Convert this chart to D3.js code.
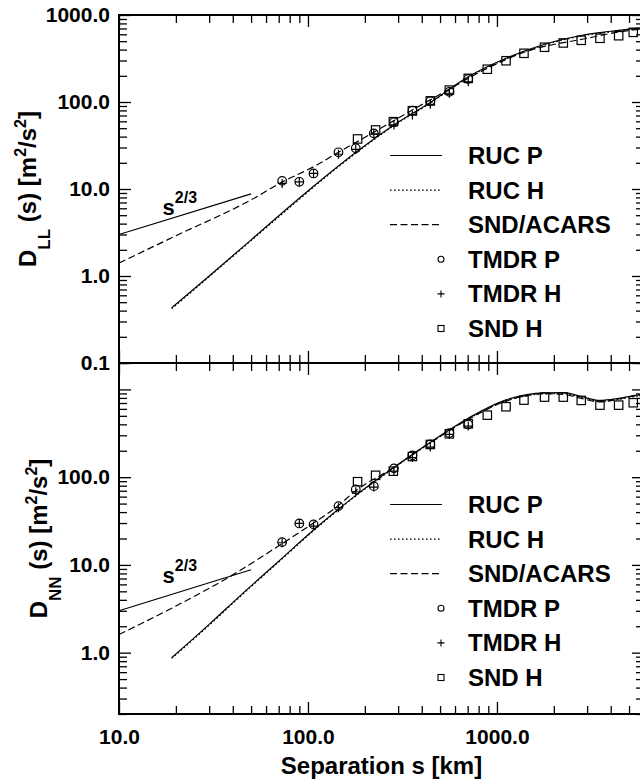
<!DOCTYPE html>
<html>
<head>
<meta charset="utf-8">
<script src="https://cdn.jsdelivr.net/npm/d3@7"></script>
<style>
  body { margin: 0; background: #fff; }
  text { font-family: "Liberation Sans", Arial, Helvetica, sans-serif; font-weight: bold; fill: #000; }
</style>
</head>
<body>
<svg id="chart" width="640" height="781"></svg>
<script>
// s^(2/3) reference segment (same in both panels)
const refS = [10, 50];
const refV = [3.0, 8.8];

// ---- D_LL panel ----
const llRucS = [19, 30, 50, 84, 120, 181, 285, 444, 705, 1117, 1786, 2866, 4000, 6000];
const llRucP = [0.43, 1.0, 2.6, 6.9, 13.2, 26.8, 54.5, 99, 195, 318, 461, 589, 650, 720];
const llRucH = [0.42, 0.98, 2.55, 6.7, 12.9, 26.2, 53.5, 97, 191, 312, 452, 578, 640, 708];
const llSndS = [10, 20, 50, 73, 107, 145, 223, 357, 560, 889, 1390, 2866, 5265, 6000];
const llSnd  = [1.41, 2.9, 7.5, 12, 18, 26.4, 44.9, 80.9, 141, 244, 373, 530, 673, 690];

// ---- D_NN panel ----
const nnRucS = [19, 30, 44, 70, 107, 179, 283, 444, 705, 1117, 1786, 2244, 2793, 3508, 4406, 5540, 6000];
const nnRucP = [0.875, 2.1, 4.5, 11, 25, 62, 128, 250, 470, 760, 915, 920, 830, 750, 790, 860, 870];
const nnRucH = [0.86, 2.05, 4.4, 10.8, 24.5, 61, 126, 245, 460, 740, 890, 895, 810, 730, 770, 840, 850];
const nnSndS = [10, 20, 40, 73, 107, 142, 179, 283, 444, 705, 1117, 1786, 2244, 2793, 3508, 4290, 5265, 6000];
const nnSnd  = [1.61, 3.4, 7.7, 17.5, 30, 46, 70, 128, 247, 455, 736, 893, 877, 790, 720, 769, 839, 850];

// point observations
const tmdrS = [73, 90, 107, 145, 179, 223, 285, 357, 444, 560, 705];
const llTmdrP = [12.4, 12.1, 15.1, 26.4, 29.4, 43.6, 58.5, 79.4, 102, 131, 184];
const llTmdrH = [11.6, 12.1, 15.1, 25.1, 28.6, 42.9, 54.5, 71, 94.2, 126, 171];
const nnTmdrP = [18.2, 29.7, 29, 46.8, 72.5, 79, 126, 177, 236, 318, 399];
const nnTmdrH = [17.9, 29.7, 27.7, 44.9, 68.2, 77.1, 117, 167, 220, 307, 382];

const sndS = [183, 228, 283, 357, 444, 560, 705, 889, 1117, 1390, 1786, 2244, 2793, 3508, 4406, 5265];
const llSndH = [37.6, 47.7, 59.4, 79.4, 103, 137, 187, 238, 298, 363, 426, 477, 512, 540, 578, 632];
const nnSndH = [88.8, 105, 117, 172, 236, 312, 406, 509, 635, 755, 817, 817, 749, 662, 662, 705];

const legendNames = ["RUC P", "RUC H", "SND/ACARS", "TMDR P", "TMDR H", "SND H"];
const xTickLabels = [10, 100, 1000];

const svg = d3.select("#chart");
const x0 = 119, x1 = 644;

const x = d3.scaleLog().domain([10, 6000]).range([x0, x1]);

const panels = [
  { top: 15, bottom: 363, domain: [0.1, 1000], yLabels: [0.1, 1, 10, 100, 1000],
    sub: "LL", titleX: 36, rucS: llRucS, rucP: llRucP, rucH: llRucH, sndLineS: llSndS, sndLine: llSnd,
    tmP: llTmdrP, tmH: llTmdrH, sq: llSndH, refText: [17, 5.0], legendBase: 164, xLabels: false },
  { top: 363, bottom: 714, domain: [0.2, 2000], yLabels: [1, 10, 100],
    sub: "NN", titleX: 47, rucS: nnRucS, rucP: nnRucP, rucH: nnRucH, sndLineS: nnSndS, sndLine: nnSnd,
    tmP: nnTmdrP, tmH: nnTmdrH, sq: nnSndH, refText: [17, 6.3], legendBase: 513, xLabels: true }
];

const isMajor = d => Math.abs(Math.log10(d) - Math.round(Math.log10(d))) < 1e-9;
const fmt = d3.format(".1f");
const hasVal = (arr, d) => arr.some(v => Math.abs(v - d) / v < 1e-6);

const xTicks = x.ticks();
const xMajor = xTicks.filter(isMajor), xMinor = xTicks.filter(d => !isMajor(d));

function styleAxis(g) {
  g.select(".domain").remove();
  g.selectAll(".tick line").attr("stroke", "#000").attr("stroke-width", 1.3);
  g.selectAll(".tick text").attr("font-size", 21);
}

const dashStyle = { solid: null, dotted: "1.6,2.4", dashed: "7,3.5" };

panels.forEach(p => {
  const y = d3.scaleLog().domain(p.domain).range([p.bottom, p.top]);
  const yTicks = y.ticks();
  const yMajor = yTicks.filter(isMajor), yMinor = yTicks.filter(d => !isMajor(d));
  const g = svg.append("g");

  // left axis
  g.append("g").attr("transform", `translate(${x0},0)`)
    .call(d3.axisLeft(y).tickValues(yMajor).tickSize(-12).tickPadding(9)
      .tickFormat(d => hasVal(p.yLabels, d) ? fmt(d) : ""))
    .call(styleAxis);
  g.append("g").attr("transform", `translate(${x0},0)`)
    .call(d3.axisLeft(y).tickValues(yMinor).tickSize(-8).tickFormat(""))
    .call(styleAxis);
  // right axis
  g.append("g").attr("transform", `translate(${x1},0)`)
    .call(d3.axisRight(y).tickValues(yMajor).tickSize(-12).tickFormat(""))
    .call(styleAxis);
  g.append("g").attr("transform", `translate(${x1},0)`)
    .call(d3.axisRight(y).tickValues(yMinor).tickSize(-8).tickFormat(""))
    .call(styleAxis);
  // top axis
  g.append("g").attr("transform", `translate(0,${p.top})`)
    .call(d3.axisTop(x).tickValues(xMajor).tickSize(-12).tickFormat(""))
    .call(styleAxis);
  g.append("g").attr("transform", `translate(0,${p.top})`)
    .call(d3.axisTop(x).tickValues(xMinor).tickSize(-8).tickFormat(""))
    .call(styleAxis);
  // bottom axis
  g.append("g").attr("transform", `translate(0,${p.bottom})`)
    .call(d3.axisBottom(x).tickValues(xMajor).tickSize(-12).tickPadding(15)
      .tickFormat(d => p.xLabels && hasVal(xTickLabels, d) ? fmt(d) : ""))
    .call(styleAxis);
  g.append("g").attr("transform", `translate(0,${p.bottom})`)
    .call(d3.axisBottom(x).tickValues(xMinor).tickSize(-8).tickFormat(""))
    .call(styleAxis);

  // frame
  g.append("rect").attr("x", x0).attr("y", p.top)
    .attr("width", x1 - x0).attr("height", p.bottom - p.top)
    .attr("fill", "none").attr("stroke", "#000").attr("stroke-width", 2);

  const line = d3.line().x(d => x(d[0])).y(d => y(d[1])).curve(d3.curveMonotoneX);
  const addLine = (sv, vv, dash) => g.append("path")
    .datum(sv.map((s, i) => [s, vv[i]]))
    .attr("d", line).attr("fill", "none").attr("stroke", "#000")
    .attr("stroke-width", 1.2).attr("stroke-dasharray", dash);

  addLine(refS, refV, null);
  addLine(p.sndLineS, p.sndLine, dashStyle.dashed);
  addLine(p.rucS, p.rucH, dashStyle.dotted);
  addLine(p.rucS, p.rucP, null);

  // s^(2/3) label
  const rt = g.append("text")
    .attr("x", x(p.refText[0])).attr("y", y(p.refText[1])).attr("font-size", 22);
  rt.append("tspan").text("s");
  rt.append("tspan").attr("font-size", 16).attr("dy", -12).text("2/3");

  // markers
  const mk = g.append("g").attr("fill", "none").attr("stroke", "#000").attr("stroke-width", 1.2);
  mk.selectAll("circle").data(tmdrS.map((s, i) => [s, p.tmP[i]])).join("circle")
    .attr("cx", d => x(d[0])).attr("cy", d => y(d[1])).attr("r", 4.3);
  mk.selectAll("path.plus").data(tmdrS.map((s, i) => [s, p.tmH[i]])).join("path")
    .attr("class", "plus")
    .attr("d", d => { const cx = x(d[0]), cy = y(d[1]);
      return `M${cx - 4.5},${cy}H${cx + 4.5}M${cx},${cy - 4.5}V${cy + 4.5}`; });
  mk.selectAll("rect").data(sndS.map((s, i) => [s, p.sq[i]])).join("rect")
    .attr("x", d => x(d[0]) - 4.2).attr("y", d => y(d[1]) - 4.2)
    .attr("width", 8.4).attr("height", 8.4);

  // y title
  const yt = g.append("text")
    .attr("transform", `translate(${p.titleX},${(p.top + p.bottom) / 2}) rotate(-90)`)
    .attr("text-anchor", "middle").attr("font-size", 24);
  yt.append("tspan").text("D");
  yt.append("tspan").attr("font-size", 17).attr("dy", 14).text(p.sub);
  yt.append("tspan").attr("dy", -14).text(" (s) [m");
  yt.append("tspan").attr("font-size", 16).attr("dy", -10).text("2");
  yt.append("tspan").attr("dy", 10).text("/s");
  yt.append("tspan").attr("font-size", 16).attr("dy", -10).text("2");
  yt.append("tspan").attr("dy", 10).text("]");

  // legend
  const lg = g.append("g");
  legendNames.forEach((name, i) => {
    const by = p.legendBase + i * 34.6, cy = by - 8.5;
    lg.append("text").attr("x", 468).attr("y", by).attr("font-size", 24).text(name);
    if (i < 3) {
      lg.append("line").attr("x1", 390).attr("x2", 442).attr("y1", cy).attr("y2", cy)
        .attr("stroke", "#000").attr("stroke-width", 1.2)
        .attr("stroke-dasharray", [dashStyle.solid, dashStyle.dotted, dashStyle.dashed][i]);
    } else if (i === 3) {
      lg.append("circle").attr("cx", 441).attr("cy", cy).attr("r", 3)
        .attr("fill", "none").attr("stroke", "#000").attr("stroke-width", 1.1);
    } else if (i === 4) {
      lg.append("path").attr("d", `M437.5,${cy}H444.5M441,${cy - 3.5}V${cy + 3.5}`)
        .attr("stroke", "#000").attr("stroke-width", 1.1);
    } else {
      lg.append("rect").attr("x", 438).attr("y", cy - 3).attr("width", 6).attr("height", 6)
        .attr("fill", "none").attr("stroke", "#000").attr("stroke-width", 1.1);
    }
  });
});

// x title
svg.append("text").attr("x", (x0 + x1) / 2).attr("y", 774)
  .attr("text-anchor", "middle").attr("font-size", 24).text("Separation s [km]");
</script>
</body>
</html>
